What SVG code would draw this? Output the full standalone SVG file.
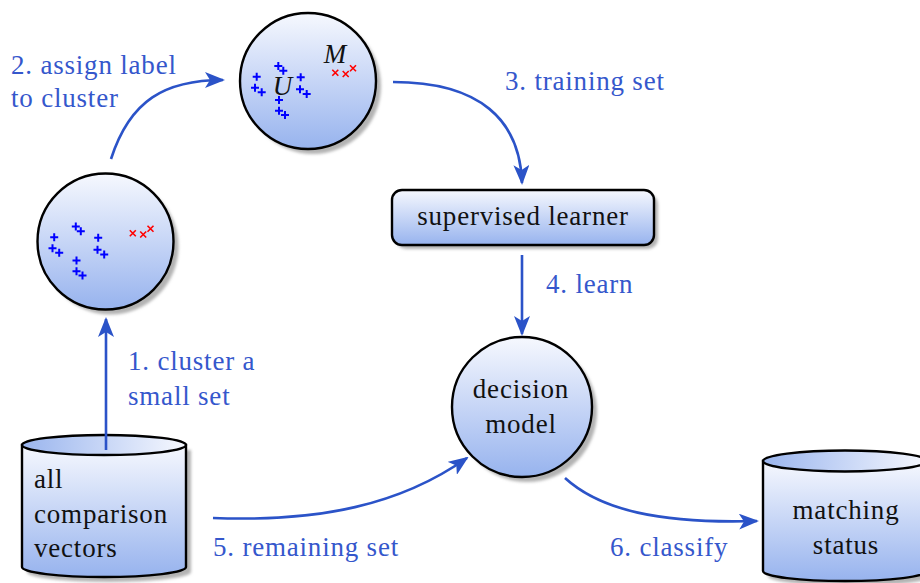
<svg xmlns="http://www.w3.org/2000/svg" width="920" height="583" viewBox="0 0 920 583">
<defs>
  <linearGradient id="gv" x1="0" y1="0" x2="0" y2="1">
    <stop offset="0" stop-color="#f6f8fe"/>
    <stop offset="1" stop-color="#97b3ee"/>
  </linearGradient>
  <linearGradient id="gh" x1="0" y1="0" x2="1" y2="0">
    <stop offset="0" stop-color="#9ab5ee"/>
    <stop offset="1" stop-color="#f6f8fe"/>
  </linearGradient>
  <filter id="blur" x="-10%" y="-10%" width="130%" height="130%">
    <feGaussianBlur stdDeviation="1.6"/>
  </filter>
  <marker id="ah" viewBox="0 0 20 16" refX="18" refY="8" markerWidth="20" markerHeight="16" markerUnits="userSpaceOnUse" orient="auto">
    <path d="M0,0 L20,8 L0,16 L5,8 Z" fill="#2b53c8"/>
  </marker>
  <g id="pts">
    <g stroke="#0000ff" stroke-width="2" fill="none">
      <path d="M-55.3,-4.3h8M-51.3,-8.3v8"/>
      <path d="M-57,6.7h8M-53,2.7v8"/>
      <path d="M-50.3,11.3h8M-46.3,7.3v8"/>
      <path d="M-33.7,-15h8M-29.7,-19v8"/>
      <path d="M-28.7,-10.3h8M-24.7,-14.3v8"/>
      <path d="M-11.3,-3.7h8M-7.3,-7.7v8"/>
      <path d="M-12,8.3h8M-8,4.3v8"/>
      <path d="M-5.3,13h8M-1.3,9v8"/>
      <path d="M-33,19h8M-29,15v8"/>
      <path d="M-33,29.7h8M-29,25.7v8"/>
      <path d="M-27,34h8M-23,30v8"/>
    </g>
    <g stroke="#ff0000" stroke-width="1.6" fill="none">
      <path d="M24.3,-11.3l6,6M30.3,-11.3l-6,6"/>
      <path d="M34.7,-10l6,6M40.7,-10l-6,6"/>
      <path d="M42,-15.7l6,6M48,-15.7l-6,6"/>
    </g>
  </g>
</defs>
<style>
  .node { stroke: #000; stroke-width: 2.4; }
  .shadow { fill: #b3b3b3; filter: url(#blur); }
  .txt { font-family: "Liberation Serif", "Times New Roman", serif; font-size: 27px; fill: #111; letter-spacing: 0.8px; }
  .lbl { font-family: "Liberation Serif", "Times New Roman", serif; font-size: 27px; fill: #3557cc; letter-spacing: 0.8px; }
  .it { font-family: "Liberation Serif", "Times New Roman", serif; font-size: 27px; font-style: italic; fill: #111; }
  .conn { fill: none; stroke: #2b53c8; stroke-width: 2.6; marker-end: url(#ah); }
</style>

<g id="cluster-labeled">
  <circle class="shadow" cx="313" cy="86" r="68"/>
  <circle class="node" cx="308" cy="81" r="68" fill="url(#gv)"/>
  <use href="#pts" transform="translate(308,81)"/>
  <text class="it" x="282.5" y="95" text-anchor="middle">U</text>
  <text class="it" x="335" y="63" text-anchor="middle">M</text>
</g>

<g id="cluster-small">
  <circle class="shadow" cx="110.5" cy="246.5" r="68"/>
  <circle class="node" cx="105.5" cy="241.5" r="68" fill="url(#gv)"/>
  <use href="#pts" transform="translate(105.5,241.5)"/>
</g>

<g id="supervised-learner">
  <rect class="shadow" x="396" y="194" width="262" height="55" rx="10"/>
  <rect class="node" x="392" y="190" width="262" height="55" rx="10" fill="url(#gv)"/>
  <text class="txt" x="523" y="225" text-anchor="middle">supervised learner</text>
</g>

<g id="decision-model">
  <circle class="shadow" cx="527" cy="412" r="70"/>
  <circle class="node" cx="522" cy="407" r="70" fill="url(#gv)"/>
  <text class="txt" x="521" y="398" text-anchor="middle">decision</text>
  <text class="txt" x="521" y="433" text-anchor="middle">model</text>
</g>

<g id="all-vectors">
  <path class="shadow" d="M27,450 L27,572 A82,10 0 0 0 191,572 L191,450 Z"/>
  <path class="node" d="M22,445 L22,567 A82,10 0 0 0 186,567 L186,445 Z" fill="url(#gv)"/>
  <ellipse class="node" cx="104" cy="445" rx="82" ry="10" fill="url(#gh)"/>
  <text class="txt" x="34" y="488">all</text>
  <text class="txt" x="34" y="523">comparison</text>
  <text class="txt" x="34" y="557">vectors</text>
</g>

<g id="matching-status">
  <path class="shadow" d="M768,466 L768,576 A82,10 0 0 0 932,576 L932,466 Z"/>
  <path class="node" d="M763,461 L763,571 A82,10 0 0 0 927,571 L927,461 Z" fill="url(#gv)"/>
  <ellipse class="node" cx="845" cy="461" rx="82" ry="10.5" fill="url(#gh)"/>
  <text class="txt" x="846" y="519" text-anchor="middle">matching</text>
  <text class="txt" x="846" y="554" text-anchor="middle">status</text>
</g>

<g id="connectors">
  <path class="conn" d="M106,450 L106,319"/>
  <path class="conn" d="M111,159 C130,100 165,80 223,80"/>
  <path class="conn" d="M393,82 C480,82 520,120 522,183"/>
  <path class="conn" d="M522,255 L522,334"/>
  <path class="conn" d="M213,518 C320,522 400,505 467,458"/>
  <path class="conn" d="M565,478 C600,510 660,524 757,521"/>
</g>

<g id="labels">
  <text class="lbl" x="11" y="74">2. assign label</text>
  <text class="lbl" x="11" y="107">to cluster</text>
  <text class="lbl" x="505" y="90">3. training set</text>
  <text class="lbl" x="546" y="293">4. learn</text>
  <text class="lbl" x="128" y="370">1. cluster a</text>
  <text class="lbl" x="128" y="405">small set</text>
  <text class="lbl" x="213" y="556">5. remaining set</text>
  <text class="lbl" x="610" y="556">6. classify</text>
</g>
</svg>
